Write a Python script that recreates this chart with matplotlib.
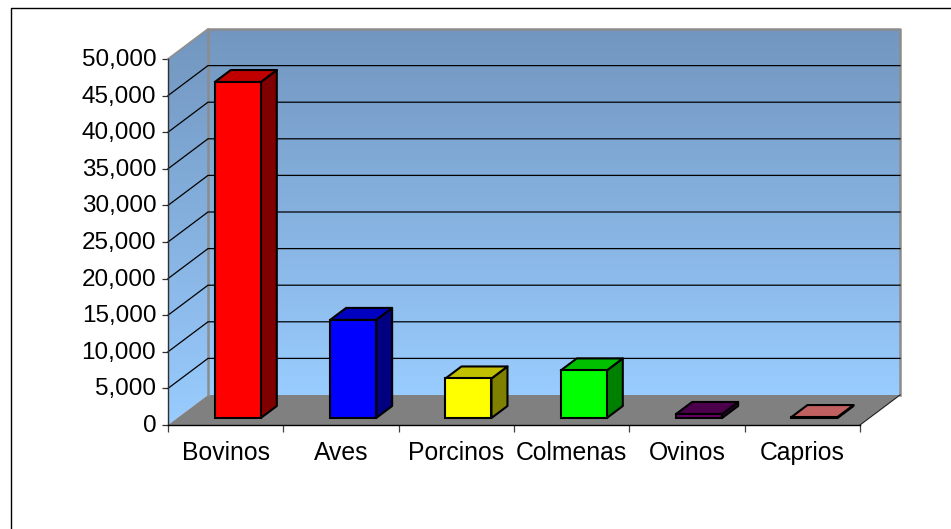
# -*- coding: utf-8 -*-

import numpy as np
import matplotlib
matplotlib.use('Agg')
import matplotlib.pyplot as plt
from matplotlib.lines import Line2D
from matplotlib.patches import Polygon
from matplotlib.transforms import ScaledTranslation

plt.rcParams['font.family'] = ['Liberation Sans', 'DejaVu Sans']

# Data ------------------------------------------------------------------------

categories = ['Bovinos', 'Aves', 'Porcinos', 'Colmenas', 'Ovinos', 'Caprios']
values = [45900, 13400, 5400, 6500, 550, 130]
y_ticks = np.arange(0, 50001, 5000)

front_colors = ['#ff0000', '#0000ff', '#ffff00', '#00ff00', '#660066', '#ff8080']
side_colors = ['#800000', '#000080', '#808000', '#008000', '#330033', '#804040']
top_colors = ['#c00000', '#0000c0', '#c0c000', '#00c000', '#4c004c', '#c06060']

# Layout (pixels) -------------------------------------------------------------

W, H = 951, 529
left, right, bottom, top = 168, 860, 425, 59

f = plt.figure(figsize=(W / 100, H / 100), dpi=100)
ax = f.add_axes([left / W, 1 - bottom / H, (right - left) / W, (bottom - top) / H])
ax.set_xlim(0, len(categories))
ax.set_ylim(0, 50000)
ax.patch.set_visible(False)

# size of one pixel in data units
px = len(categories) / (right - left)
py = 50000 / (bottom - top)

wall_dx, wall_dy = 40 * px, 30 * py
bar_dx, bar_dy = 16 * px, 12 * py
bar_x0, bar_y0 = 46.8 * px, 7 * py
bar_w = 46 * px

# Walls and floor -------------------------------------------------------------

gradient = np.linspace(0, 1, 256)[:, None]
cmap = matplotlib.colors.LinearSegmentedColormap.from_list('wall', ['#7296bf', '#99ccff'])

n = len(categories)
back = ax.imshow(gradient, cmap=cmap, aspect='auto', zorder=1, clip_on=False,
                 extent=(wall_dx, n + wall_dx, wall_dy, 50000 + wall_dy))
side_wall = ax.imshow(gradient, cmap=cmap, aspect='auto', zorder=1,
                      extent=(0, wall_dx, 0, 50000 + wall_dy))
side_clip = Polygon([(0, 0), (wall_dx, wall_dy), (wall_dx, 50000 + wall_dy), (0, 50000)],
                    transform=ax.transData, fc='none', ec='none')
ax.add_patch(side_clip)
side_clip.set_clip_on(False)
side_wall.set_clip_box(f.bbox)
side_wall.set_clip_path(side_clip)
ax.set_xlim(0, n)
ax.set_ylim(0, 50000)

floor = Polygon([(0, 0), (wall_dx, wall_dy), (n + wall_dx, wall_dy), (n, 0)],
                fc='#808080', ec='none', zorder=2, clip_on=False)
ax.add_patch(floor)

# grey frame of the back wall and upper edge of the side wall
ax.plot([wall_dx, wall_dx, n + wall_dx, n + wall_dx],
        [wall_dy, 50000 + wall_dy, 50000 + wall_dy, wall_dy],
        color='#8c8c8c', lw=1.8, zorder=3, clip_on=False)
ax.plot([0, wall_dx], [50000, 50000 + wall_dy], color='#909090', lw=1.3, zorder=3, clip_on=False)
ax.plot([n, n + wall_dx], [0, wall_dy], color='#202020', lw=0.8, zorder=3, clip_on=False)

# Gridlines -------------------------------------------------------------------

for t in y_ticks[1:-1]:
    ax.plot([0, wall_dx, n + wall_dx], [t, t + wall_dy, t + wall_dy],
            color='black', lw=0.9, zorder=3, clip_on=False)

# Bars ------------------------------------------------------------------------

for i, v in enumerate(values):
    x0 = i + bar_x0
    x1 = x0 + bar_w
    y0 = bar_y0
    y1 = bar_y0 + v
    edge = dict(ec='black', lw=1.5, joinstyle='round', zorder=4, clip_on=False)
    ax.add_patch(Polygon([(x1, y0), (x1 + bar_dx, y0 + bar_dy),
                          (x1 + bar_dx, y1 + bar_dy), (x1, y1)], fc=side_colors[i], **edge))
    ax.add_patch(Polygon([(x0, y1), (x1, y1), (x1 + bar_dx, y1 + bar_dy),
                          (x0 + bar_dx, y1 + bar_dy)], fc=top_colors[i], **edge))
    ax.bar(x0, v, width=bar_w, bottom=y0, align='edge', color=front_colors[i],
           edgecolor='black', linewidth=1.5, zorder=4, clip_on=False)

ax.set_xlim(0, n)
ax.set_ylim(0, 50000)

# Axes ------------------------------------------------------------------------

for s in ['top', 'right']:
    ax.spines[s].set_visible(False)
ax.spines['left'].set_color('#303030')
ax.spines['bottom'].set_color('black')
ax.spines['left'].set_linewidth(1.0)
ax.spines['bottom'].set_linewidth(1.0)
ax.spines['left'].set_zorder(5)
ax.spines['bottom'].set_zorder(5)

ax.set_yticks(y_ticks)
ax.set_yticklabels(['{:,}'.format(t) for t in y_ticks], fontsize=17.5, color='black')
ax.tick_params(axis='y', length=4.5, width=0.9, pad=4, color='#303030')
shift = ScaledTranslation(0, 1.5 / 100, f.dpi_scale_trans)
for label in ax.get_yticklabels():
    label.set_transform(label.get_transform() + shift)

ax.set_xticks(np.arange(n + 1))
ax.set_xticklabels([])
ax.tick_params(axis='x', which='major', length=5, width=0.9, color='#404040')
ax.set_xticks(np.arange(n) + 0.5, minor=True)
ax.set_xticklabels(categories, minor=True, fontsize=17.8)
ax.tick_params(axis='x', which='minor', length=0, pad=11.8)

# Chart area border -----------------------------------------------------------

f.add_artist(Line2D([10.5 / W, 10.5 / W, 1], [0, 1 - 7.5 / H, 1 - 7.5 / H],
                    color='black', lw=1.0))

f.savefig('out.png', dpi=100)
